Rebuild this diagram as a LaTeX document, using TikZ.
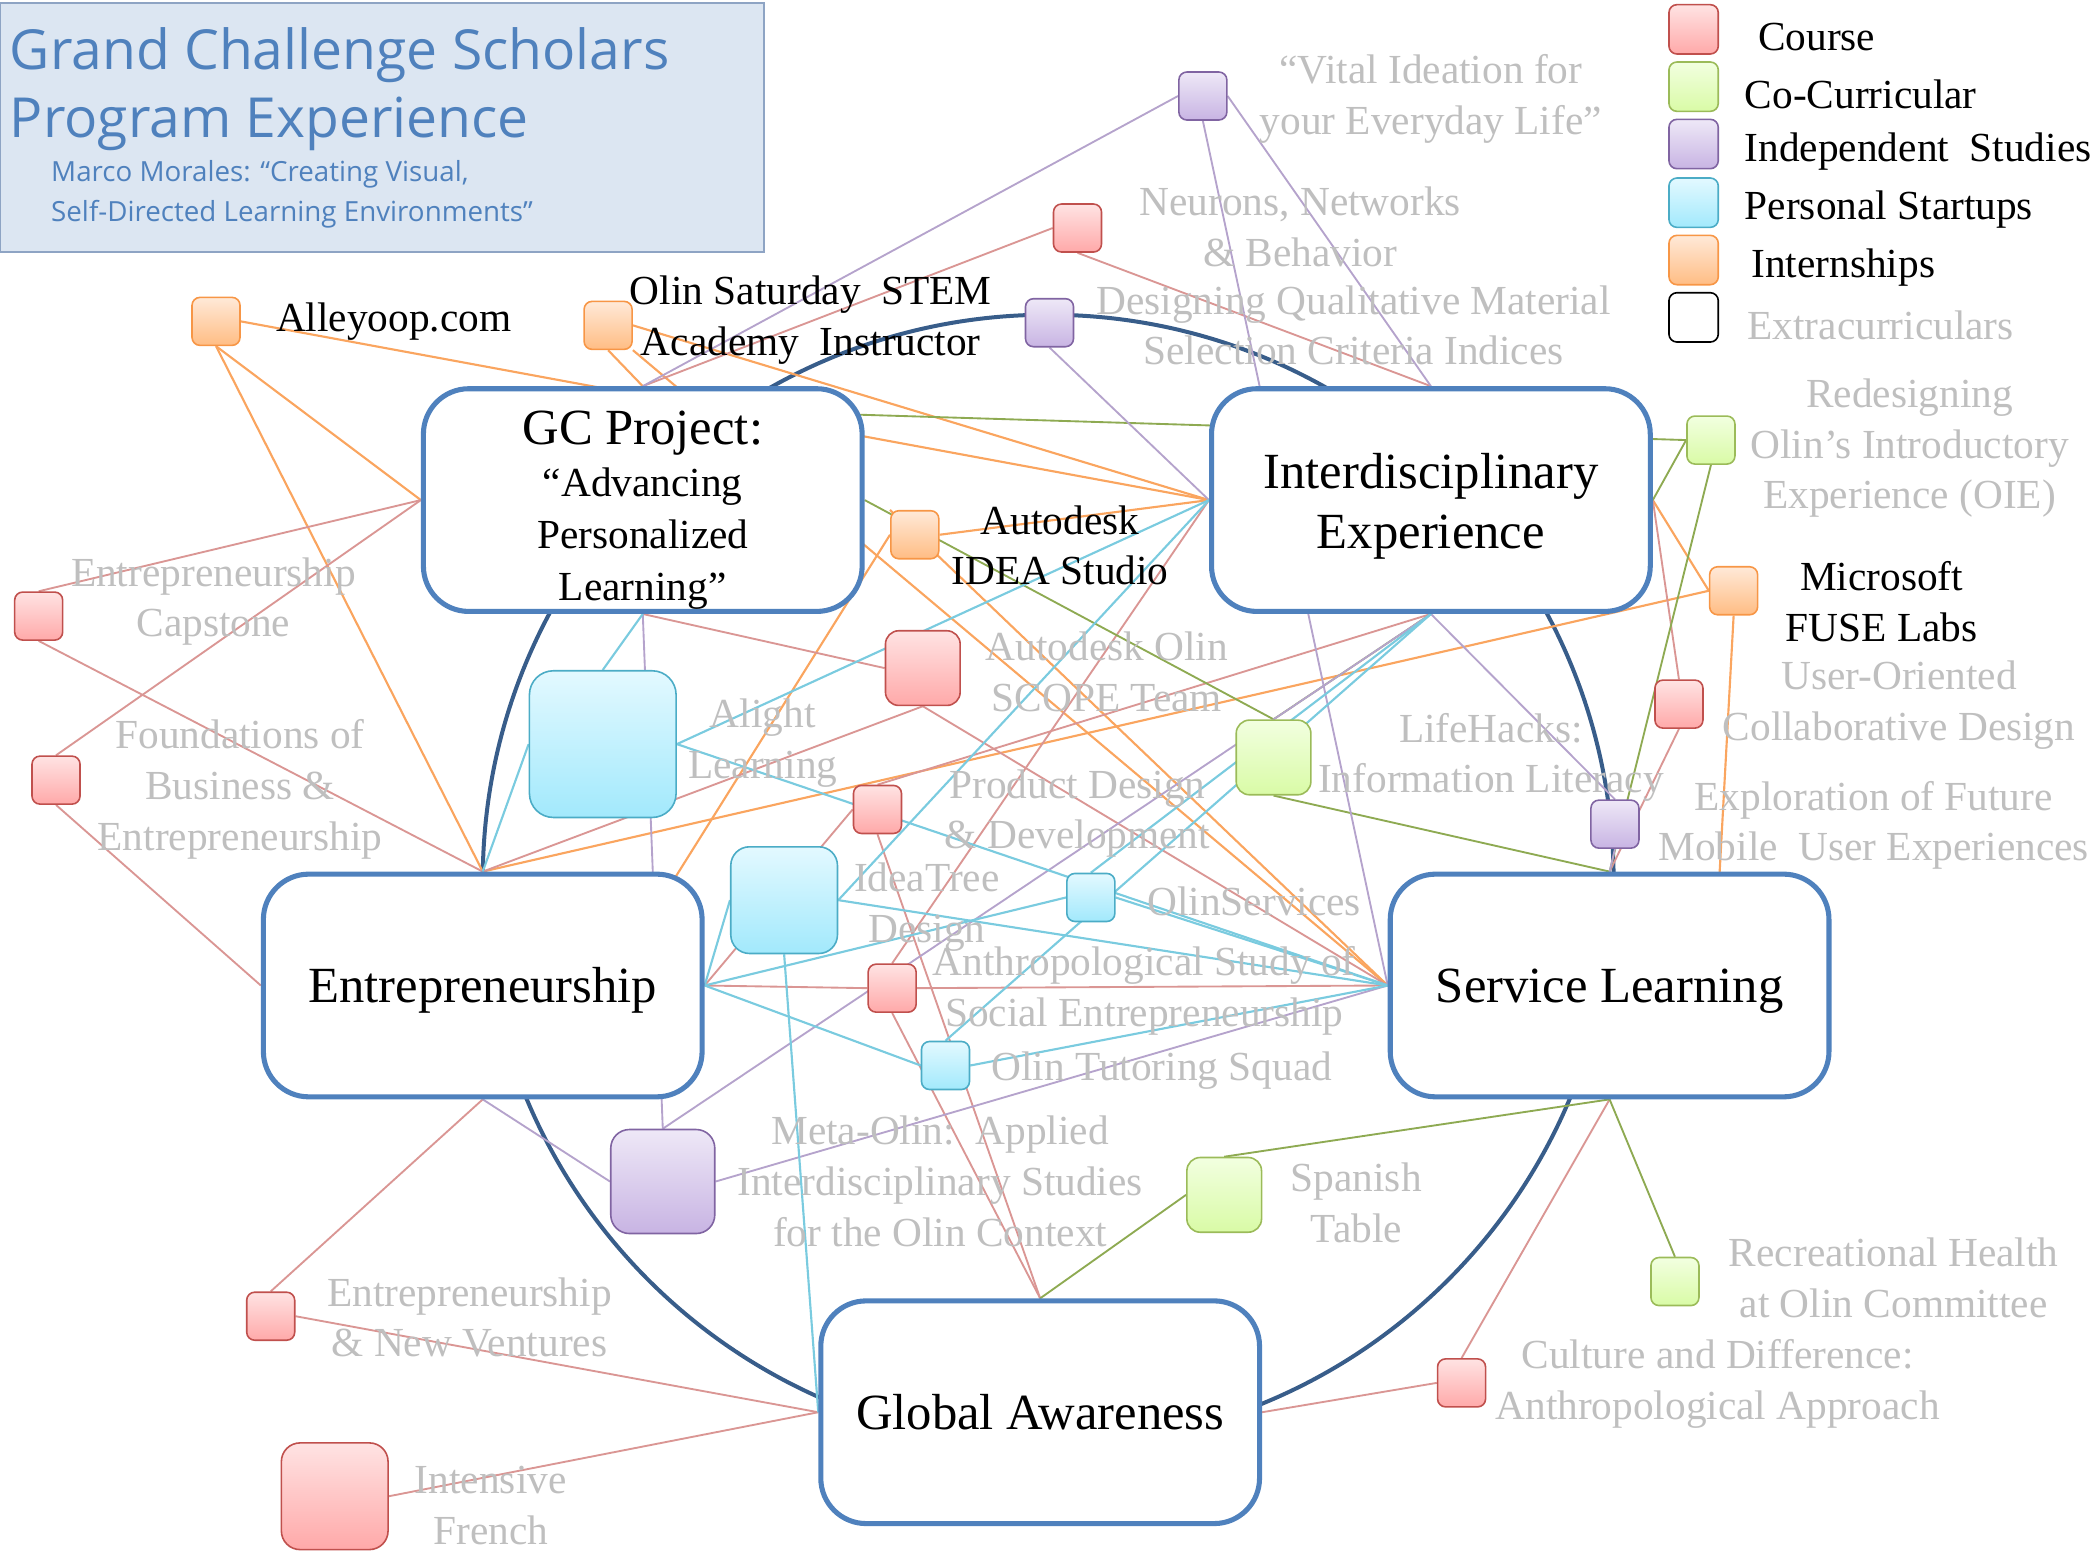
\documentclass[tikz,border=0pt]{standalone}
\usepackage{fontspec}
\setmainfont{Liberation Serif}
\newfontfamily\titlefont{Open Sans}
\usetikzlibrary{positioning,backgrounds}

\definecolor{boxblue}{HTML}{4F81BD}
\definecolor{arcblue}{HTML}{385D8A}
\definecolor{lgray}{HTML}{BFBFBF}
\definecolor{titlefill}{HTML}{DCE6F2}
\definecolor{titleline}{HTML}{8EA4C4}
\definecolor{crsT}{HTML}{FFE3E3}\definecolor{crsB}{HTML}{FFA9A9}\definecolor{crsD}{HTML}{C0504D}
\definecolor{coT}{HTML}{F2FFE0}\definecolor{coB}{HTML}{D9FBA6}\definecolor{coD}{HTML}{9BBB59}
\definecolor{indT}{HTML}{EEE8F7}\definecolor{indB}{HTML}{C8B4E3}\definecolor{indD}{HTML}{8064A2}
\definecolor{psT}{HTML}{E3F9FF}\definecolor{psB}{HTML}{A2E9FC}\definecolor{psD}{HTML}{4BACC6}
\definecolor{intT}{HTML}{FFE9D8}\definecolor{intB}{HTML}{FFBD84}\definecolor{intD}{HTML}{F79646}
\definecolor{crsE}{HTML}{DA9694}
\definecolor{coE}{HTML}{8EAA52}
\definecolor{indE}{HTML}{B5A3CC}
\definecolor{psE}{HTML}{7ACBDF}
\definecolor{intE}{HTML}{FAA55F}

\tikzset{
	area/.style={draw=boxblue,line width=1.9pt,rounded corners=17pt,fill=white,
		minimum width=164.5pt,minimum height=83.5pt,align=center,inner sep=0pt,
		font=\fontsize{19}{22.5}\selectfont},
	oneline/.style={area,text height=16pt,text depth=3pt},
	item/.style={rounded corners=3pt,line width=0.6pt,minimum size=18pt,inner sep=0pt},
	course/.style={item,draw=crsD,top color=crsT,bottom color=crsB},
	cocurr/.style={item,draw=coD,top color=coT,bottom color=coB},
	indep/.style={item,draw=indD,top color=indT,bottom color=indB},
	startup/.style={item,draw=psD,top color=psT,bottom color=psB},
	intern/.style={item,draw=intD,top color=intT,bottom color=intB},
	lbl/.style={text=lgray,align=center,inner sep=0pt,font=\fontsize{15.5}{19}\selectfont},
	blbl/.style={lbl,text=black},
	ecrs/.style={draw=crsE,line width=0.7pt},
	eco/.style={draw=coE,line width=0.7pt},
	eind/.style={draw=indE,line width=0.7pt},
	eps/.style={draw=psE,line width=0.8pt},
	eint/.style={draw=intE,line width=0.8pt}
}

\begin{document}
\begin{tikzpicture}[x=0.5pt,y=-0.5pt]
	\useasboundingbox (0,0) rectangle (1568,1165);

	% title
	\node(title) [draw=titleline,fill=titlefill,line width=0.8pt,minimum width=286.5pt,minimum height=93.5pt,inner sep=0pt] at (286.5,95.5) {};
	\node(t1) [anchor=west,text=boxblue,inner sep=0pt,font=\titlefont\fontsize{20.7}{24}\selectfont] at (7,41) {Grand Challenge Scholars};
	\node(t2) [anchor=west,text=boxblue,inner sep=0pt,font=\titlefont\fontsize{20.7}{24}\selectfont] at (7,93) {Program Experience};
	\node(t3) [anchor=west,text=boxblue,inner sep=0pt,align=left,font=\titlefont\fontsize{10.4}{15}\selectfont] at (38,146) {Marco Morales: “Creating Visual,\\Self-Directed Learning Environments”};

	% legend
	\node(kc) [course,minimum size=18.5pt] at (1270,22) {};
	\node(kco) [cocurr,minimum size=18.5pt] at (1270,65) {};
	\node(kin) [indep,minimum size=18.5pt] at (1270,108) {};
	\node(kps) [startup,minimum size=18.5pt] at (1270,152) {};
	\node(kit) [intern,minimum size=18.5pt] at (1270,195) {};
	\node(kex) [item,draw=black,fill=white,minimum size=18.5pt] at (1270,238) {};
	\node [blbl,anchor=west] at (1318,28) {Course};
	\node [blbl,anchor=west] at (1308,71) {Co-Curricular};
	\node [blbl,anchor=west] at (1308,114) {Independent\ \ Studies};
	\node [blbl,anchor=west] at (1308,157) {Personal Startups};
	\node [blbl,anchor=west] at (1313,201) {Internships};
	\node [lbl,anchor=west] at (1310,244) {Extracurriculars};

	% main areas
	\node(gc) [area,font=\fontsize{15.5}{19.5}\selectfont] at (482,375) {{\fontsize{19}{20}\selectfont\rule{0pt}{20pt}GC Project:}\\“Advancing\\Personalized\\Learning”};
	\node(inter) [area] at (1073,375) {\rule{0pt}{18pt}Interdisciplinary\\Experience};
	\node(entr) [oneline] at (362,739) {Entrepreneurship};
	\node(serv) [oneline] at (1207,739) {Service Learning};
	\node(ga) [oneline] at (780,1059) {Global Awareness};

	% experiences
	\node(alley) [intern] at (162,241) {};
	\node(olin) [intern] at (456,244) {};
	\node(vital) [indep] at (902,72) {};
	\node(neur) [course] at (808,171) {};
	\node(desq) [indep] at (787,242) {};
	\node(redes) [cocurr] at (1283,330) {};
	\node(idea) [intern] at (686,401) {};
	\node(msft) [intern] at (1300,443) {};
	\node(cap) [course] at (29,462) {};
	\node(found) [course] at (42,585) {};
	\node(alight) [startup,minimum size=55pt,rounded corners=9pt] at (452,558) {};
	\node(scope) [course,minimum size=28pt,rounded corners=5pt] at (692,501) {};
	\node(prod) [course] at (658,607) {};
	\node(life) [cocurr,minimum size=28pt,rounded corners=5pt] at (955,568) {};
	\node(user) [course] at (1259,528) {};
	\node(expl) [indep] at (1211,618) {};
	\node(tree) [startup,minimum size=40pt,rounded corners=7pt] at (588,675) {};
	\node(osvc) [startup] at (818,673) {};
	\node(anth) [course] at (669,741) {};
	\node(tutor) [startup] at (709,799) {};
	\node(meta) [indep,minimum size=39pt,rounded corners=7pt] at (497,886) {};
	\node(span) [cocurr,minimum size=28pt,rounded corners=5pt] at (918,896) {};
	\node(recr) [cocurr] at (1256,961) {};
	\node(env) [course] at (203,987) {};
	\node(cult) [course] at (1096,1037) {};
	\node(french) [course,minimum size=40pt,rounded corners=7pt] at (251,1122) {};

	% labels
	\node(alley-l) [blbl,right=13pt of alley] {Alleyoop.com};
	\node(olin-l) [blbl] at (608,240) {Olin Saturday\ \ STEM\\Academy\ \ Instructor};
	\node(vital-l) [lbl] at (1073,74) {“Vital Ideation for\\your Everyday Life”};
	\node(neur-l) [lbl] at (975,170) {Neurons, Networks\\\& Behavior};
	\node(desq-l) [lbl] at (1015,244) {Designing Qualitative Material\\Selection Criteria Indices};
	\node(redes-l) [lbl] at (1432,336) {Redesigning\\Olin’s Introductory\\Experience (OIE)};
	\node(idea-l) [blbl] at (795,409) {Autodesk\\IDEA Studio};
	\node(msft-l) [blbl] at (1411,451) {Microsoft\\FUSE Labs};
	\node(cap-l) [lbl] at (160,451) {Entrepreneurship\\Capstone};
	\node(found-l) [lbl] at (180,592) {Foundations of\\Business \&\\Entrepreneurship};
	\node(alight-l) [lbl] at (572,557) {Alight\\Learning};
	\node(scope-l) [lbl] at (830,504) {Autodesk Olin\\SCOPE Team};
	\node(prod-l) [lbl] at (808,610) {Product Design\\\& Development};
	\node(life-l) [lbl] at (1118,568) {LifeHacks:\\Information Literacy};
	\node(user-l) [lbl] at (1424,529) {User-Oriented\\Collaborative Design};
	\node(expl-l) [lbl] at (1405,619) {Exploration of Future\\Mobile\ \ User Experiences};
	\node(tree-l) [lbl] at (695,680) {IdeaTree\\Design};
	\node(osvc-l) [lbl,anchor=west] at (860,676) {OlinServices};
	\node(anth-l) [lbl] at (858,743) {Anthropological Study of\\Social Entrepreneurship};
	\node(tutor-l) [lbl,anchor=west] at (743,803) {Olin Tutoring Squad};
	\node(meta-l) [lbl] at (705,886) {Meta-Olin:\ \ Applied\\Interdisciplinary Studies\\for the Olin Context};
	\node(span-l) [lbl] at (1017,902) {Spanish\\Table};
	\node(recr-l) [lbl] at (1420,958) {Recreational Health\\at Olin Committee};
	\node(env-l) [lbl] at (352,988) {Entrepreneurship\\\& New Ventures};
	\node(cult-l) [lbl] at (1288,1038) {Culture and Difference:\\Anthropological Approach};
	\node(french-l) [lbl] at (368,1129) {Intensive\\French};

	\coordinate(gc-in) at (482,306);
	\coordinate(entr-in) at (480,700);
	\coordinate(serv-in) at (1287,700);

	\begin{scope}[on background layer]
		\draw[arcblue,line width=1.5pt] (786,660) circle [radius=424];
		% internships
		\path[eint]
			(alley.east) edge (inter.west)
			(alley.south) edge (gc.west)
			(alley.south) edge (entr.north)
			(olin.east) edge (inter.west)
			(olin.south) edge (gc.north)
			(olin.south east) edge (serv.west)
			(idea.north west) edge (serv.west)
			(idea.east) edge (inter.west)
			(idea.west) edge (entr-in)
			(msft.west) edge (inter.east)
			(msft.west) edge (entr.north)
			(msft.south) edge (serv-in);
		% courses
		\path[ecrs]
			(neur.west) edge (gc.north)
			(neur.south) edge (inter.north)
			(cap.north) edge (gc.west)
			(cap.south) edge (entr.north)
			(found.north) edge (gc.west)
			(found.south) edge (entr.west)
			(scope.west) edge (gc.south)
			(scope.south) edge (entr.north)
			(scope.south) edge (serv.west)
			(prod.west) edge (entr.east)
			(prod.south) edge (ga.north)
			(prod.north) edge (inter.south)
			(anth.west) edge (entr.east)
			(anth.east) edge (serv.west)
			(anth.north) edge (inter.west)
			(anth.south) edge (ga.north)
			(user.north) edge (inter.east)
			(user.south) edge (serv.north)
			(env.north) edge (entr.south)
			(env.east) edge (ga.west)
			(french.east) edge (ga.west)
			(cult.west) edge (ga.east)
			(cult.north) edge (serv.south);
		% co-curricular
		\path[eco]
			(redes.west) edge (gc-in)
			(redes.west) edge (inter.east)
			(redes.south) edge (serv.north)
			(life.north) edge (gc.east)
			(life.north) edge (inter.south)
			(life.south) edge (serv.north)
			(span.west) edge (ga.north)
			(span.north) edge (serv.south)
			(recr.north) edge (serv.south);
		% independent studies
		\path[eind]
			(vital.west) edge (gc.north)
			(vital.east) edge (inter.north)
			(vital.south) edge (serv.west)
			(desq.south) edge (inter.west)
			(expl.north) edge (inter.south)
			(expl.south) edge (serv.north)
			(meta.north) edge (gc.south)
			(meta.north) edge (inter.south)
			(meta.west) edge (entr.south)
			(meta.east) edge (serv.west);
		% personal startups
		\path[eps]
			(alight.north) edge (gc.south)
			(alight.west) edge (entr.north)
			(alight.east) edge (inter.west)
			(alight.east) edge (serv.west)
			(tree.west) edge (entr.east)
			(tree.east) edge (inter.west)
			(tree.east) edge (serv.west)
			(tree.south) edge (ga.west)
			(osvc.west) edge (entr.east)
			(osvc.north) edge (inter.south)
			(osvc.east) edge (serv.west)
			(tutor.west) edge (entr.east)
			(tutor.north) edge (inter.south)
			(tutor.east) edge (serv.west);
	\end{scope}
\end{tikzpicture}
\end{document}
